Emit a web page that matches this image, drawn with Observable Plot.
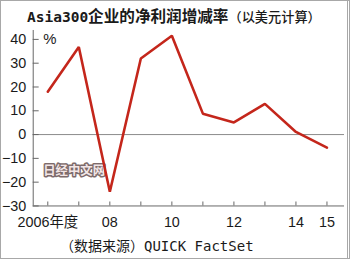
<!DOCTYPE html>
<html>
<head>
<meta charset="utf-8">
<script src="https://cdn.jsdelivr.net/npm/d3@7"></script>
<script src="https://cdn.jsdelivr.net/npm/@observablehq/plot@0.6"></script>
<style>
  html, body { margin: 0; padding: 0; background: #fff; }
  #wrap { position: relative; width: 350px; height: 259px; box-sizing: border-box; border: 1px solid #a8a8a8; border-right: 3px double #a8a8a8; overflow: hidden; background: #fff; }
  #title { position: absolute; top: 0; left: 26px; height: 28px; line-height: 28px; white-space: nowrap; color: #1a1a1a; }
  #title .lat { font-family: "DejaVu Sans Mono", monospace; font-weight: bold; font-size: 14.5px; }
  #title .cjk { font-family: "Noto Sans CJK SC", sans-serif; font-weight: bold; font-size: 15.6px; }
  #title .sub { font-family: "Noto Sans CJK SC", sans-serif; font-weight: 500; font-size: 13.2px; }
  #chart { position: absolute; top: 27px; left: -1px; }
  #caption { position: absolute; top: 234px; left: 59px; height: 20px; line-height: 20px; white-space: nowrap; color: #1a1a1a; font-size: 14px; font-family: "DejaVu Sans Mono", "Noto Sans CJK SC", monospace; }
  #caption .cjk { font-family: "Noto Sans CJK SC", sans-serif; }
</style>
</head>
<body>
<div id="wrap">
  <div id="title"><span class="lat">Asia300</span><span class="cjk">企业的净利润增减率</span><span class="sub">（以美元计算）</span></div>
  <div id="chart"></div>
  <div id="caption"><span class="cjk">（数据来源）</span>QUICK FactSet</div>
</div>
<script>
const years = [2006, 2007, 2008, 2009, 2010, 2011, 2012, 2013, 2014, 2015];
const values = [18, 36.8, -24, 32, 41.5, 8.8, 5.1, 12.9, 1.1, -5.5];
const yTicks = [-30, -20, -10, 0, 10, 20, 30, 40];
const xLabelYears = [2006, 2008, 2010, 2012, 2014, 2015];
const xLabels = ["2006年度", "08", "10", "12", "14", "15"];
const unitLabel = "%";
const watermark = "日经中文网";

const data = years.map((y, i) => ({year: y, value: values[i]}));
const labelOf = new Map(xLabelYears.map((y, i) => [y, xLabels[i]]));
const xDomain = [2005.53, 2015.566];
const yDomain = [-30, 43.75];

const chart = Plot.plot({
  width: 350,
  height: 204,
  marginLeft: 33,
  marginRight: 3,
  marginTop: 2,
  marginBottom: 25,
  style: {fontFamily: "'Liberation Sans', 'Noto Sans CJK SC', sans-serif", fontSize: "14.5px", color: "#1a1a1a", background: "transparent"},
  x: {domain: xDomain, axis: null},
  y: {domain: yDomain, axis: null},
  marks: [
    Plot.ruleY([0], {stroke: "#8a8a8a", strokeWidth: 1}),
    Plot.ruleY([yDomain[0]], {stroke: "#666", strokeWidth: 1}),
    Plot.ruleX([xDomain[0]], {stroke: "#666", strokeWidth: 1}),
    Plot.axisY(yTicks, {anchor: "left", label: null, tickSize: -6, fill: "none", stroke: "#666"}),
    Plot.axisY(yTicks, {anchor: "left", label: null, tickSize: 0, tickPadding: 7, fill: "#1a1a1a"}),
    Plot.axisX(years, {anchor: "bottom", label: null, tickSize: -4, fill: "none", stroke: "#666"}),
    Plot.axisX(xLabelYears, {anchor: "bottom", label: null, tickSize: 0, tickPadding: 11, fill: "#1a1a1a", tickFormat: d => labelOf.get(d)}),
    Plot.text([unitLabel], {frameAnchor: "left", y: () => yTicks[yTicks.length - 1], dx: 10, textAnchor: "start", fontSize: 15}),
    Plot.text([watermark], {frameAnchor: "bottom-left", dx: 10, dy: -31, textAnchor: "start", fontSize: 12.5, fontWeight: "bold", fontFamily: "'Noto Sans CJK SC', sans-serif", fill: "#f3e6e6", stroke: "#7d6b6b", strokeWidth: 3}),
    Plot.line(data, {x: "year", y: "value", stroke: "#c4261b", strokeWidth: 2.6, strokeLinejoin: "miter"})
  ]
});
document.getElementById("chart").appendChild(chart);
</script>
</body>
</html>
